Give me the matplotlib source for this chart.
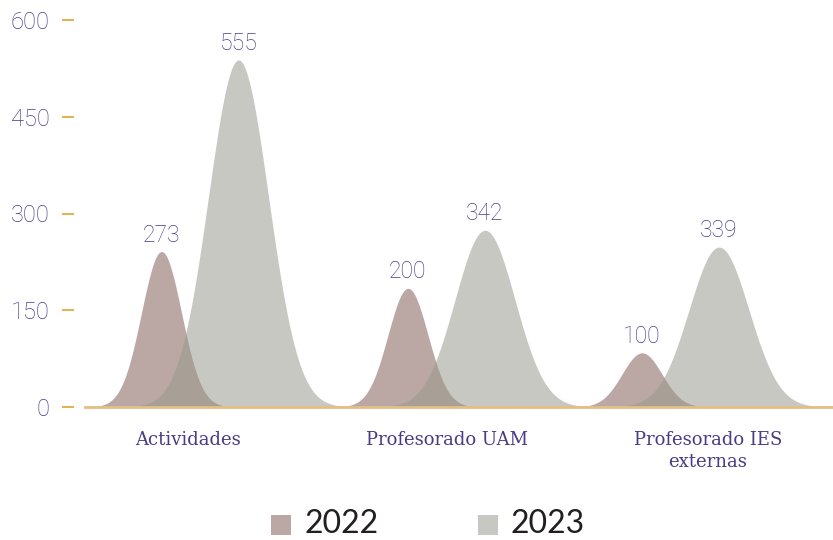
import numpy as np
import matplotlib
matplotlib.use("Agg")
import matplotlib.pyplot as plt
import matplotlib.transforms as mtrans
from matplotlib.patches import Rectangle

# ---- data ----
categories = ["Actividades", "Profesorado UAM", "Profesorado IES\nexternas"]
series = ["2022", "2023"]
values_2022 = [273, 200, 100]          # labelled values
values_2023 = [555, 342, 339]
peaks_2022 = [241, 184, 84]            # drawn peak heights
peaks_2023 = [538, 274, 248]
yticks = [0, 150, 300, 450, 600]

# ---- layout / style ----
W, H = 833, 540
fig = plt.figure(figsize=(W / 100, H / 100), dpi=100)
ax = fig.add_axes([85 / W, 133 / H, 748 / W, 387 / H])
ax.set_xlim(0, 748)
ax.set_ylim(0, 600)

group_x = [115.5, 362, 596]
offsets = [-39, 38]
sigmas = [20, 30]
label_x = [103, 362, 623]
fill_colors = ["#bba8a5", (151 / 255, 151 / 255, 140 / 255)]
alphas = [1.0, 0.52]
purple = "#4c3b8a"
num_font = ["Roboto", "DejaVu Sans"]
num_weight = "light"

x = np.linspace(0, 748, 3000)
for s, (peaks, vals) in enumerate([(peaks_2022, values_2022), (peaks_2023, values_2023)]):
    for i, (h, v) in enumerate(zip(peaks, vals)):
        c = group_x[i] + offsets[s]
        sig = sigmas[s]
        mask = np.abs(x - c) <= 4 * sig
        y = h * np.exp(-((x[mask] - c) ** 2) / (2 * sig ** 2))
        ax.fill_between(x[mask], 0, y, color=fill_colors[s], alpha=alphas[s],
                        linewidth=0, zorder=2 + s)
        ax.annotate(str(v), (c, h), xytext=(0, 3.5), textcoords="offset points",
                    ha="center", va="bottom", fontsize=16.5, color=purple,
                    family=num_font, fontweight=num_weight, zorder=5)

# baseline
ax.axhline(0, color="#e3bf84", linewidth=2, zorder=6, clip_on=False)

for sp in ax.spines.values():
    sp.set_visible(False)
ax.spines["left"].set_position(("outward", 8))
ax.set_xticks([])
ax.set_yticks(yticks)
ax.set_yticklabels([str(t) for t in yticks])
ax.tick_params(axis="y", length=8.6, width=1.1, color="#d69e1c", pad=8.6,
               labelsize=17, labelcolor=purple)
for lab in ax.get_yticklabels():
    lab.set_family(num_font)
    lab.set_fontweight(num_weight)

# category labels (below the baseline)
cat_shift = ax.transData + mtrans.ScaledTranslation(0, -24 / 100, fig.dpi_scale_trans)
for lx, cat in zip(label_x, categories):
    ax.text(lx, 0, cat, transform=cat_shift, ha="center", va="top",
            fontsize=13, color="#4b3a84", family="DejaVu Serif",
            linespacing=1.3)

# legend
leg_sq = [(271, 515), (478, 515)]
leg_txt = [305, 510]
for s in range(2):
    x0, y0 = leg_sq[s]
    fig.patches.append(Rectangle((x0 / W, 1 - (y0 + 20) / H), 20 / W, 20 / H,
                                 transform=fig.transFigure, facecolor=fill_colors[s],
                                 alpha=alphas[s], edgecolor="none"))
    fig.text(leg_txt[s] / W, 1 - 524 / H, series[s], ha="left", va="center",
             fontsize=23, color="#231f20", family=["Lato", "DejaVu Sans"])

fig.savefig("out.png", dpi=100)
